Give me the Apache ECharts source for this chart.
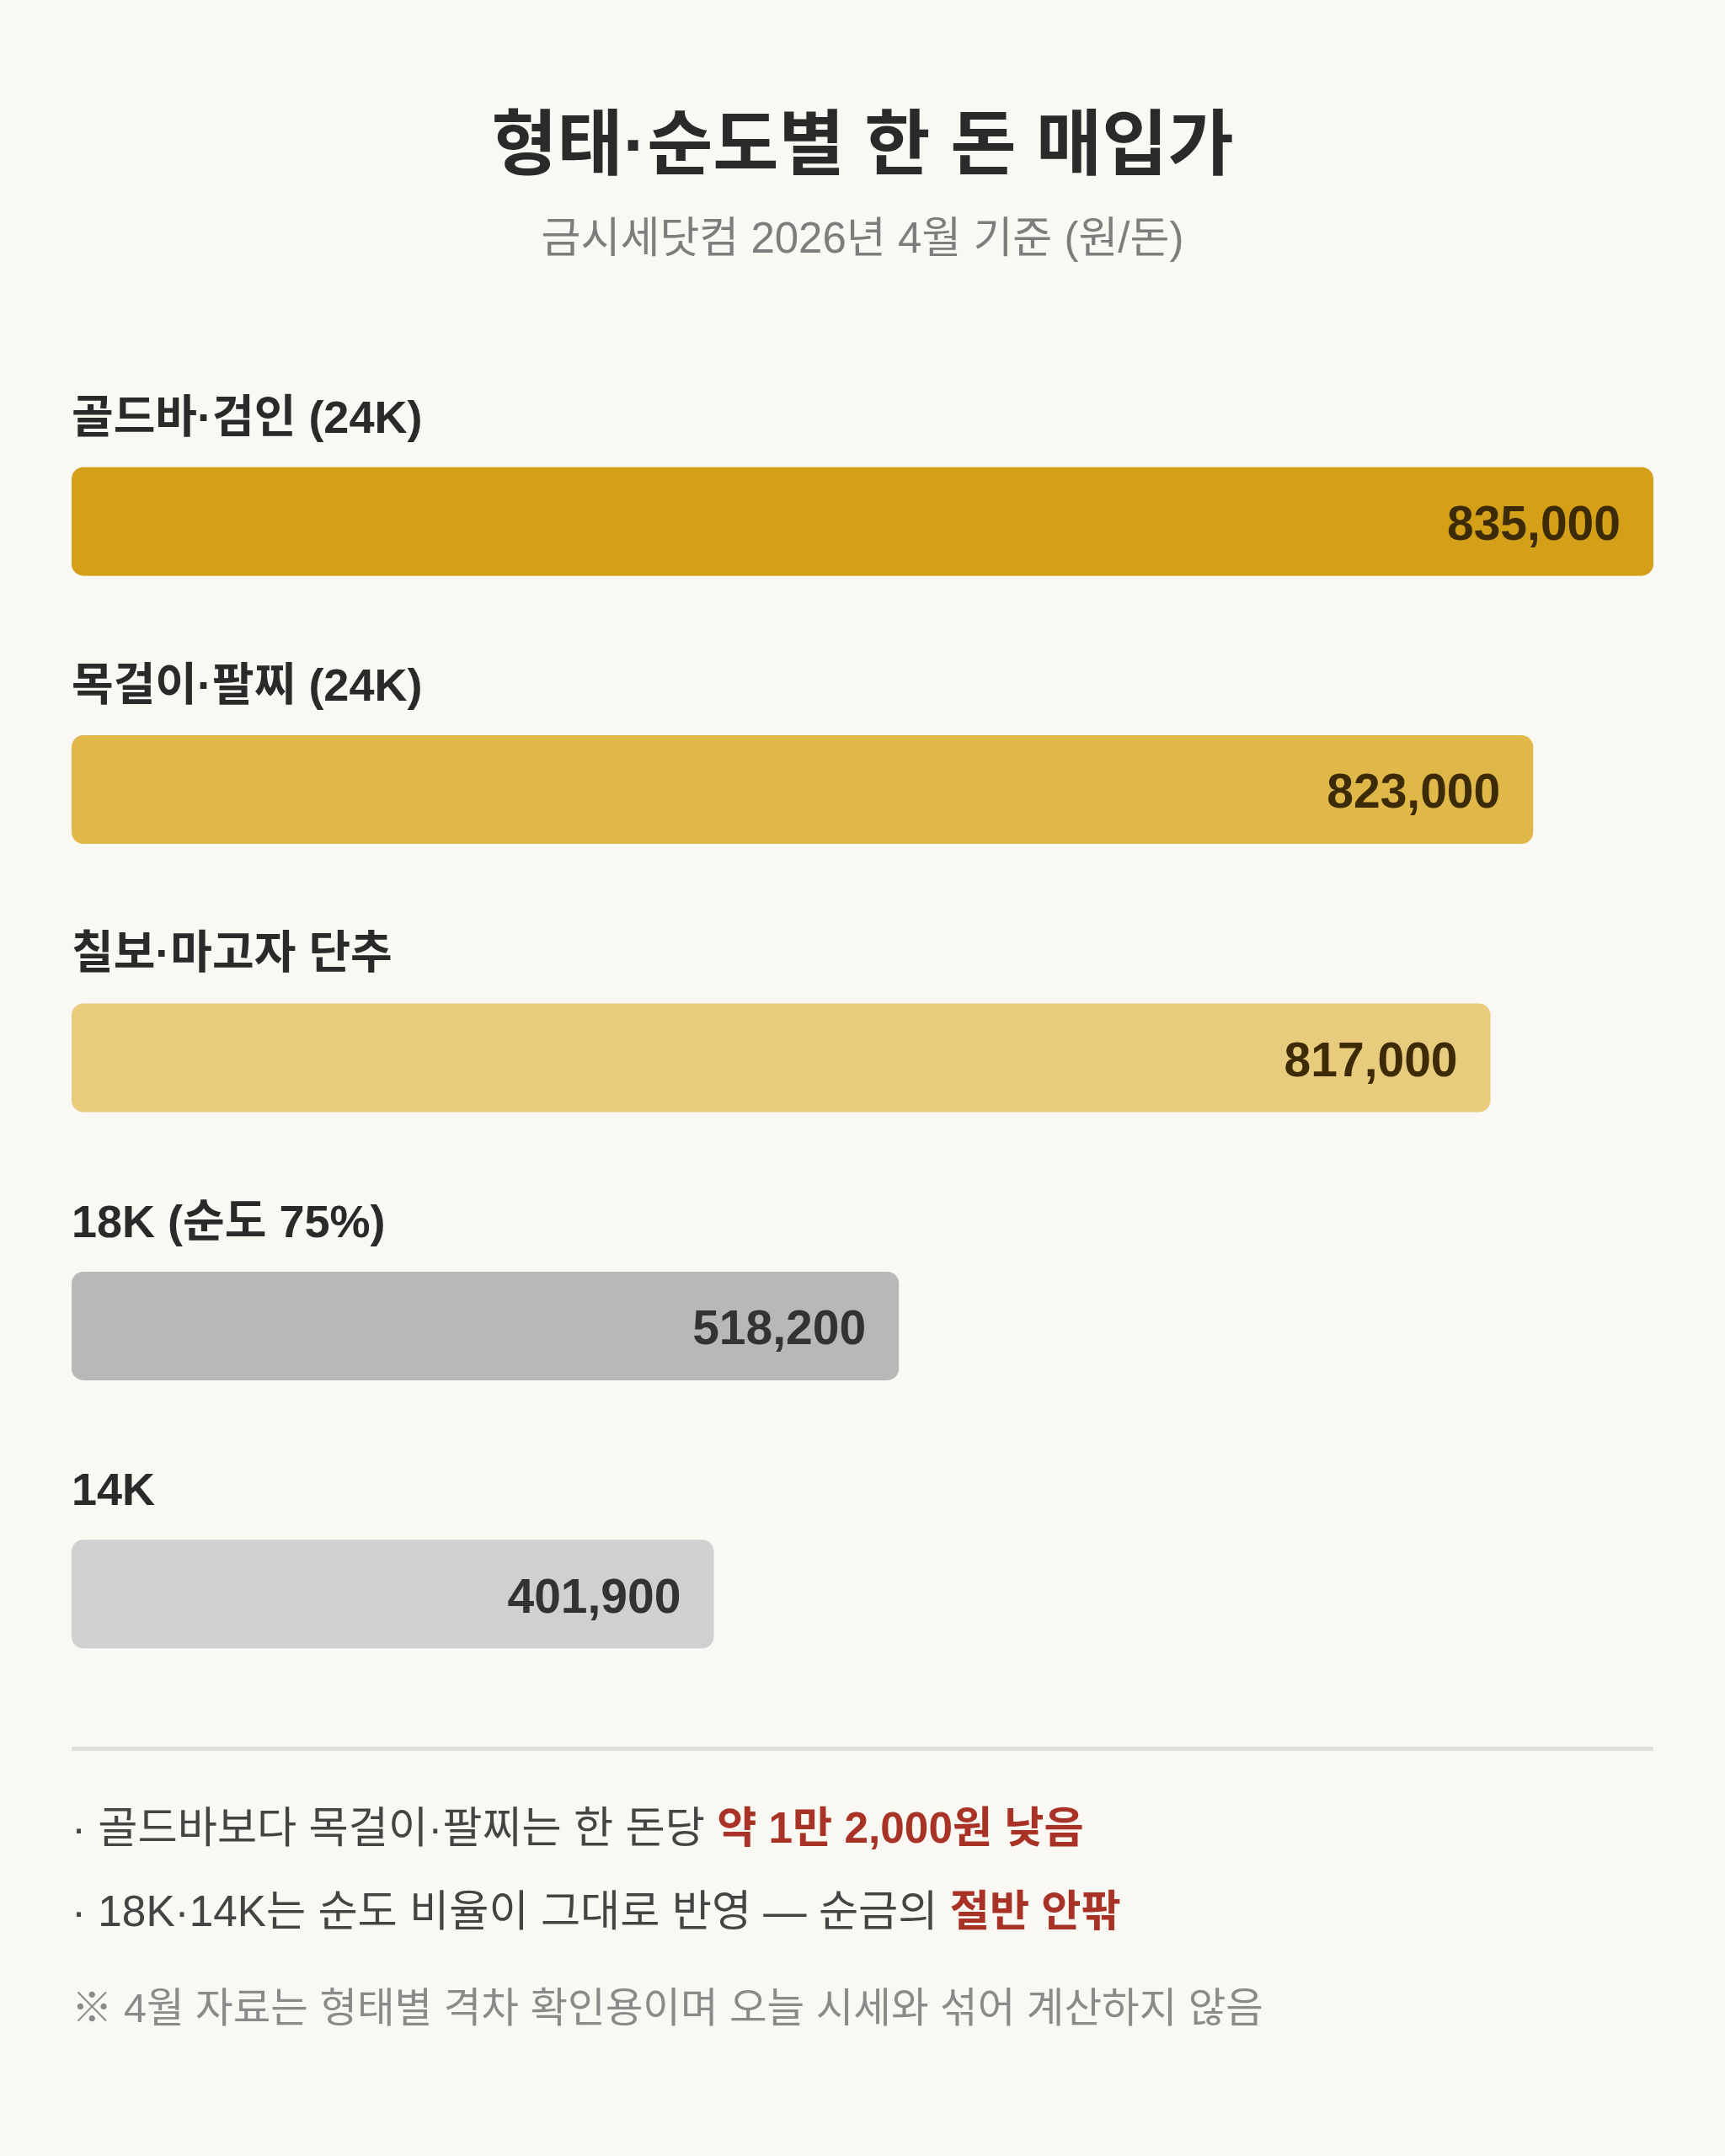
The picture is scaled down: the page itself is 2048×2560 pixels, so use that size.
<!DOCTYPE html>
<html lang="ko">
<head>
<meta charset="utf-8">
<title>형태·순도별 한 돈 매입가</title>
<script src="https://cdn.jsdelivr.net/npm/echarts@6/dist/echarts.min.js"></script>
<style>
  html, body { margin: 0; padding: 0; background: #f9f8f3; }
  #chart { width: 2048px; height: 2560px; }
</style>
</head>
<body>
<div id="chart"></div>
<script>
// categories, shown prices (won per don) and drawn bar length (% of the top bar)
const categories = ['골드바·검인 (24K)', '목걸이·팔찌 (24K)', '칠보·마고자 단추', '18K (순도 75%)', '14K'];
const prices = [835000, 823000, 817000, 518200, 401900];
const barLengths = [100, 92.4, 89.7, 52.3, 40.6];

const barColors = ['#d4a017', '#e0b84a', '#e8cb7c', '#b8b8b8', '#d0d0d0'];
const valueColors = ['#3d2b05', '#3d2b05', '#3d2b05', '#333333', '#333333'];

const FONT = "'Liberation Sans', 'Noto Sans CJK KR', sans-serif";

var myChart = echarts.init(document.getElementById('chart'));

myChart.setOption({
  backgroundColor: '#f9f8f3',
  textStyle: { fontFamily: FONT },
  title: {
    text: '형태·순도별 한 돈 매입가',
    subtext: '금시세닷컴 2026년 4월 기준 (원/돈)',
    left: 'center',
    top: 130,
    itemGap: 40,
    textStyle: {
      fontFamily: FONT,
      fontSize: 85,
      lineHeight: 85,
      fontWeight: 'bold',
      color: '#2a2a2a'
    },
    subtextStyle: {
      fontFamily: FONT,
      fontSize: 51,
      lineHeight: 51,
      color: '#7d7d7d'
    }
  },
  grid: {
    left: 85,
    right: 85,
    top: 460,
    height: 1592
  },
  xAxis: {
    type: 'value',
    min: 0,
    max: 100,
    show: false
  },
  yAxis: {
    type: 'category',
    inverse: true,
    data: categories,
    show: false
  },
  series: [
    {
      name: 'price',
      type: 'bar',
      barWidth: 129,
      silent: true,
      data: barLengths.map((v, i) => ({
        value: v,
        itemStyle: { color: barColors[i], borderRadius: 14 },
        label: { color: valueColors[i] }
      })),
      label: {
        show: true,
        position: 'insideRight',
        distance: 39,
        offset: [0, 6],
        fontFamily: FONT,
        fontSize: 57,
        fontWeight: 'bold',
        formatter: p => prices[p.dataIndex].toLocaleString('en-US')
      }
    },
    {
      // transparent overlay that carries the category name above each bar
      name: 'name',
      type: 'bar',
      barWidth: 129,
      barGap: '-100%',
      silent: true,
      itemStyle: { color: 'rgba(0,0,0,0)' },
      data: barLengths,
      label: {
        show: true,
        position: [0, -56],
        verticalAlign: 'middle',
        align: 'left',
        fontFamily: FONT,
        fontSize: 54,
        fontWeight: 'bold',
        color: '#2a2a2a',
        formatter: p => categories[p.dataIndex]
      }
    }
  ],
  graphic: [
    {
      type: 'rect',
      shape: { x: 85, y: 2074, width: 1878, height: 5 },
      style: { fill: '#deddd8' }
    },
    {
      type: 'text',
      x: 85,
      y: 2174,
      style: {
        text: '{n|· 골드바보다 목걸이·팔찌는 한 돈당 }{h|약 1만 2,000원 낮음}',
        verticalAlign: 'middle',
        rich: {
          n: { fontFamily: FONT, fontSize: 51.3, fill: '#444444' },
          h: { fontFamily: FONT, fontSize: 51.3, fill: '#a93226', fontWeight: 'bold' }
        }
      }
    },
    {
      type: 'text',
      x: 85,
      y: 2273,
      style: {
        text: '{n|· 18K·14K는 순도 비율이 그대로 반영 — 순금의 }{h|절반 안팎}',
        verticalAlign: 'middle',
        rich: {
          n: { fontFamily: FONT, fontSize: 51.3, fill: '#444444' },
          h: { fontFamily: FONT, fontSize: 51.3, fill: '#a93226', fontWeight: 'bold' }
        }
      }
    },
    {
      type: 'text',
      x: 85,
      y: 2388,
      style: {
        text: '※ 4월 자료는 형태별 격차 확인용이며 오늘 시세와 섞어 계산하지 않음',
        verticalAlign: 'middle',
        fontFamily: FONT,
        fontSize: 48.5,
        fill: '#8a8a8a'
      }
    }
  ]
});
</script>
</body>
</html>
